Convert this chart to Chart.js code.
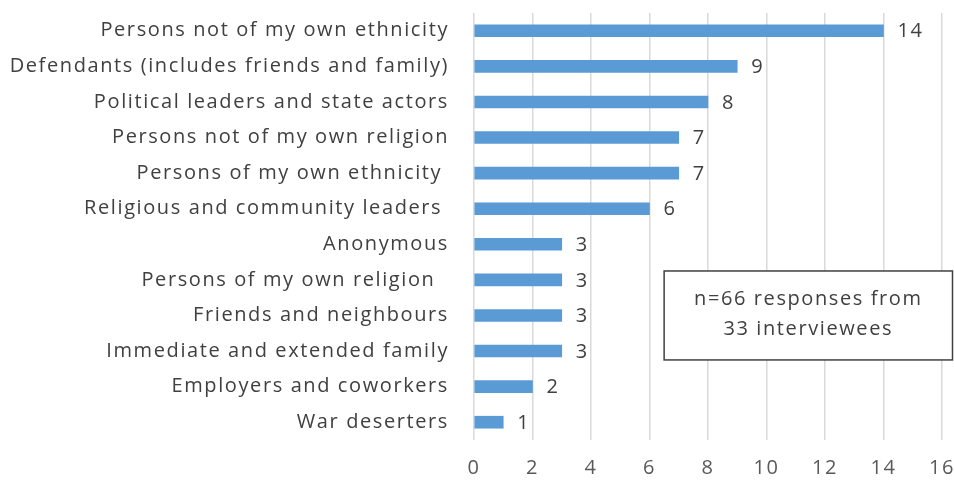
<!DOCTYPE html>
<html>
<head>
<meta charset="utf-8">
<script src="https://cdn.jsdelivr.net/npm/chart.js@4.4.0/dist/chart.umd.min.js"></script>
<style>
	html, body { margin: 0; padding: 0; background: #fff; }
	#wrap { width: 954px; height: 485px; }
</style>
</head>
<body>
<div id="wrap"><canvas id="chart"></canvas></div>
<script>
const categories = [
	"Persons not of my own ethnicity",
	"Defendants (includes friends and family)",
	"Political leaders and state actors",
	"Persons not of my own religion",
	"Persons of my own ethnicity ",
	"Religious and community leaders ",
	"Anonymous",
	"Persons of my own religion  ",
	"Friends and neighbours",
	"Immediate and extended family",
	"Employers and coworkers",
	"War deserters",
];
const responses = [14, 9, 8, 7, 7, 6, 3, 3, 3, 3, 2, 1];
const noteLines = ["n=66 responses from", "33 interviewees"];

const FONT = "'Open Sans', sans-serif";
const FONT_SIZE = 20;
const TEXT_COLOR = "#404040";
const SPACING = "1.6px";

// the source font is set wide, so spread the letters a bit
const spacing = {
	id: "spacing",
	beforeUpdate(chart) { chart.ctx.letterSpacing = SPACING; },
	beforeDraw(chart) { chart.ctx.letterSpacing = SPACING; },
};

// value labels at bar ends + the note box
const extras = {
	id: "extras",
	afterDatasetsDraw(chart) {
		const ctx = chart.ctx;
		const meta = chart.getDatasetMeta(0);
		ctx.save();
		ctx.letterSpacing = SPACING;
		ctx.font = FONT_SIZE + "px " + FONT;
		ctx.fillStyle = TEXT_COLOR;
		ctx.textBaseline = "middle";
		ctx.textAlign = "left";
		meta.data.forEach((bar, i) => {
			ctx.fillText(String(responses[i]), bar.x + 14, bar.y + 1);
		});

		// note box
		const xs = chart.scales.x, ys = chart.scales.y;
		const left = xs.getPixelForValue(6.5);
		const right = chart.width - 1.5;
		const top = ys.getPixelForValue(6.75);
		const bottom = ys.getPixelForValue(9.25);
		ctx.fillStyle = "#fff";
		ctx.fillRect(left, top, right - left, bottom - top);
		ctx.strokeStyle = "#404040";
		ctx.lineWidth = 1.5;
		ctx.strokeRect(left, top, right - left, bottom - top);
		ctx.fillStyle = TEXT_COLOR;
		ctx.textAlign = "center";
		const cx = (left + right) / 2;
		const cy = (top + bottom) / 2;
		ctx.fillText(noteLines[0], cx, cy - 16);
		ctx.fillText(noteLines[1], cx, cy + 14);
		ctx.restore();
	},
};

new Chart(document.getElementById("chart"), {
	type: "bar",
	data: {
		labels: categories,
		datasets: [
			{
				data: responses,
				backgroundColor: "#5b9bd5",
				barThickness: 12,
			},
		],
	},
	options: {
		indexAxis: "y",
		responsive: true,
		maintainAspectRatio: false,
		animation: false,
		devicePixelRatio: 1,
		layout: { padding: { top: 13, right: 0, bottom: 6, left: 0 } },
		plugins: {
			legend: { display: false },
			tooltip: { enabled: false },
		},
		scales: {
			x: {
				min: 0,
				max: 16,
				afterFit(scale) {
					scale.height = 39;
					scale.paddingLeft = 0;
					scale.paddingRight = 12;
				},
				ticks: {
					stepSize: 2,
					color: "#595959",
					font: { family: FONT, size: FONT_SIZE },
					padding: 16,
				},
				grid: { color: "#d9d9d9", lineWidth: 1.5, drawTicks: false },
				border: { display: false },
			},
			y: {
				afterFit(scale) {
					scale.width = 474;
					scale.paddingTop = 0;
					scale.paddingBottom = 0;
				},
				ticks: {
					color: TEXT_COLOR,
					font: { family: FONT, size: FONT_SIZE },
					padding: 0,
					autoSkip: false,
				},
				grid: { display: false, drawTicks: true, tickLength: 25 },
				border: { display: false },
			},
		},
	},
	plugins: [spacing, extras],
});
</script>
</body>
</html>
